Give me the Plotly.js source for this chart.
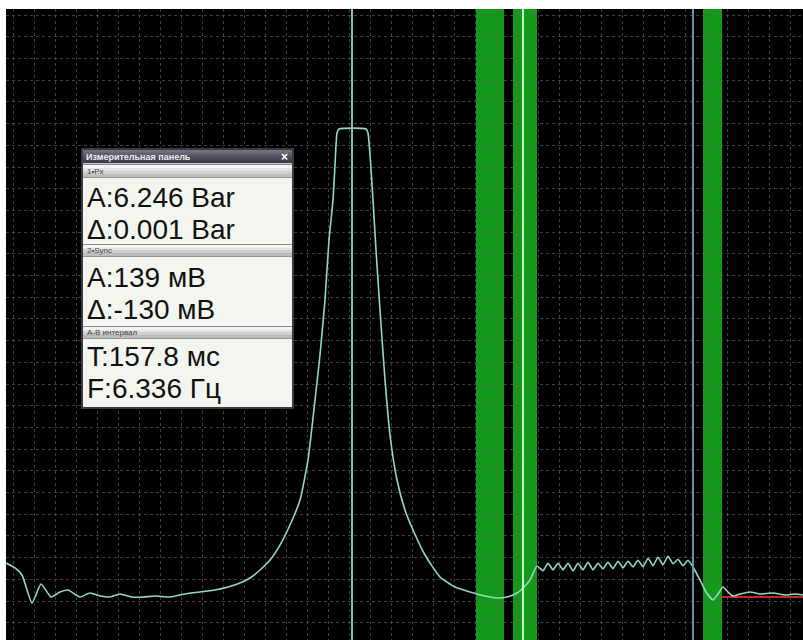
<!DOCTYPE html>
<html>
<head>
<meta charset="utf-8">
<script src="https://cdn.plot.ly/plotly-3.0.1.min.js"></script>
<style>html,body{margin:0;padding:0;background:#fff;}#chart{width:803px;height:640px;}</style>
</head>
<body>
<div id="chart"></div>
<script>
// ---- Data (time in ms, pressure in Bar) ----
const timeMs = [0,9,16,26,35,45,54,62,74,84,94,104,114,126,137,149,164,179,194,209,222,
  234,244,254,264,274,284,294,302,309,314,319,323,327,329,331,333,
  360,362,367,370,374,379,384,391,399,407,419,434,449,464,479,491,501,511,518,524,531,
  537,542,547,552,557,562,567,572,577,582,587,592,597,602,607,612,617,622,627,632,637,642,647,652,657,662,667,672,677,682,687,
  694,700,707,712,717,722,727,734,744,754,767,779,789,797];
const pressureBar = [0.453,0.387,0.293,-0.08,0.173,0,0.067,0.093,0,0.053,0.013,0,0.04,0,0,0.013,0,0.04,0.067,0.093,0.133,
  0.187,0.253,0.36,0.493,0.693,0.96,1.293,1.827,2.627,3.227,3.96,4.76,5.293,5.76,6.187,6.24,
  6.24,6.187,5.293,4.627,3.827,2.893,2.16,1.56,1.16,0.893,0.56,0.267,0.133,0.067,0.013,-0.013,0,0.053,0.133,0.227,0.413,
  0.35,0.45,0.363,0.45,0.363,0.45,0.35,0.45,0.363,0.463,0.363,0.45,0.377,0.463,0.377,0.477,0.39,0.477,0.403,0.49,0.403,0.517,0.417,0.53,0.43,0.543,0.443,0.503,0.417,0.49,0.4,
  0.227,0.067,-0.04,0.04,0.133,0.067,0.013,0.04,0.067,0.04,0.053,0.027,0.04,0.027];
const syncTimeMs = [716,797];
const syncLevel = [0,0];
const bandsMs = [[470,498],[507,531],[697,716]];
const cursorAms = 346;
const cursorBms = 517;
const cursorCms = 687;
const panelTitle = "Измерительная панель";
const panelHeaders = ["1•Px","2•Sync","A-B интервал"];
const panelLines = ["A:6.246 Bar","Δ:0.001 Bar","A:139 мВ","Δ:-130 мВ","T:157.8 мс","F:6.336 Гц"];

// ---- helpers for overlay placement (pixel -> paper) ----
const PX = p => (p-6)/797;
const PY = p => (640-p)/631;
function prect(x0,y0,x1,y1,fill){
  return {type:'rect',xref:'paper',yref:'paper',x0:PX(x0),x1:PX(x1),y0:PY(y1),y1:PY(y0),
    fillcolor:fill,line:{width:0},layer:'above'};
}
function gradBar(x0,y0,x1,y1,colors){
  const out=[]; const h=(y1-y0)/colors.length;
  colors.forEach((c,i)=>out.push(prect(x0,y0+i*h,x1,y0+(i+1)*h+0.3,c)));
  return out;
}

const shapes = [];
bandsMs.forEach(b=>shapes.push({type:'rect',xref:'x',yref:'paper',x0:b[0],x1:b[1],y0:0,y1:1,
  fillcolor:'#14991a',line:{width:0},layer:'between'}));
shapes.push({type:'line',xref:'x',yref:'paper',x0:cursorAms,x1:cursorAms,y0:0,y1:1,line:{color:'#86c39c',width:2},layer:'above'});
shapes.push({type:'line',xref:'x',yref:'paper',x0:cursorBms,x1:cursorBms,y0:0,y1:1,line:{color:'#c4f7c4',width:2},layer:'above'});
shapes.push({type:'line',xref:'x',yref:'paper',x0:cursorCms,x1:cursorCms,y0:0,y1:1,line:{color:'#6b8fa0',width:2},layer:'above'});

// panel
shapes.push(prect(81,148,294,409,'#3a3a42'));
shapes.push(prect(83,163,292,407,'#f2f6ef'));
shapes.push(...gradBar(83,150,292,163,['#72727f','#62626f','#54545f','#474752','#3c3c46']));
const hdrY = [[165,177],[245,256],[327,338]];
hdrY.forEach(h=>{
  shapes.push(prect(83,h[0]-1,292,h[1]+1,'#8a8a8a'));
  shapes.push(...gradBar(83,h[0],292,h[1],['#f4f4f4','#e2e2e2','#d0d0d0','#bdbdbd']));
});

const annotations = [];
const A = (text,px,py,size,color,bold,anchor)=>annotations.push({xref:'paper',yref:'paper',x:PX(px),y:PY(py),
  text:bold?'<b>'+text+'</b>':text,showarrow:false,xanchor:anchor||'left',yanchor:'middle',
  font:{family:'Liberation Sans, Arial, sans-serif',size:size,color:color}});
A(panelTitle,84,156.5,9,'#eeeef4',true);
A('×',290,156.5,12,'#ffffff',true,'right');
A(panelHeaders[0],85,171,8,'#444',false);
A(panelHeaders[1],85,250.5,8,'#444',false);
A(panelHeaders[2],85,332.5,8,'#444',false);
const lineY=[197.5,229.2,277.5,309.2,356,388];
panelLines.forEach((t,i)=>A(t,85,lineY[i],28,'#111',false));

const traces = [
  {x:syncTimeMs,y:syncLevel,type:'scatter',mode:'lines',line:{color:'#c0262a',width:2},hoverinfo:'skip'},
  {x:timeMs,y:pressureBar,type:'scatter',mode:'lines',line:{color:'#93d9c2',width:1.6,shape:'spline',smoothing:0.5},hoverinfo:'skip'}
];

const gridStyle = {gridcolor:'rgba(90,90,90,0.7)',griddash:'dot',gridwidth:1,showticklabels:false,
  zeroline:false,showline:false,ticks:'',tickmode:'linear'};
const layout = {
  width:803,height:640,
  margin:{l:6,r:0,t:9,b:0,pad:0},
  paper_bgcolor:'#ffffff',plot_bgcolor:'#000000',
  showlegend:false,
  xaxis:Object.assign({range:[0,797],tick0:7,dtick:21},gridStyle),
  yaxis:Object.assign({range:[-0.5733,7.84],tick0:-0.0533,dtick:0.28933},gridStyle),
  shapes:shapes,annotations:annotations
};
Plotly.newPlot('chart',traces,layout,{staticPlot:true,displayModeBar:false});
</script>
</body>
</html>
